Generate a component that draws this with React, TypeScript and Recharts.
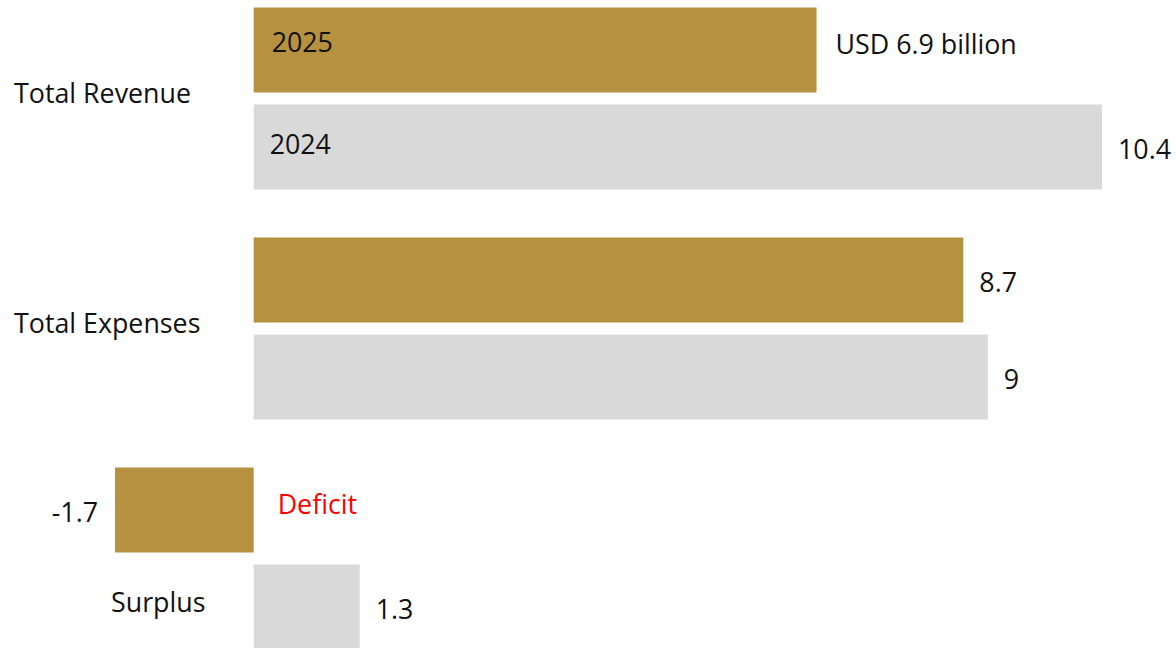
import React from 'react'
import {Bar, BarChart, LabelList, XAxis, YAxis} from 'recharts'

const categories = ['Total Revenue', 'Total Expenses', 'Surplus']
const seriesNames = ['2025', '2024']
const values2025 = [6.9, 8.7, -1.7]
const values2024 = [10.4, 9, 1.3]
const deficitLabel = 'Deficit'

const GOLD = '#b59140'
const GREY = '#d9d9d9'
const FONT = '"Open Sans", "Noto Sans", sans-serif'
const FS = 26.8

const data = categories.map((name, i) => ({
  name,
  y2025: values2025[i],
  y2024: values2024[i],
}))

function CategoryTick(props: any) {
  const {y, payload} = props
  const isSurplus = payload.value === 'Surplus'
  return (
    <text
      x={isSurplus ? 111 : 14}
      y={isSurplus ? y + 43 : y - 6}
      dominantBaseline="central"
      fontSize={FS}
      fontFamily={FONT}
      fill="#111"
    >
      {payload.value}
    </text>
  )
}

function makeLabel(series: number) {
  return (props: any) => {
    const vb = props.viewBox ?? props
    const x = Number(vb.x), width = Number(vb.width)
    const y = Number(vb.y), height = Number(vb.height)
    const value = Number(props.value)
    const index = props.index
    const left = Math.min(x, x + width)
    const right = Math.max(x, x + width)
    const cy = y + height / 2
    const out: React.ReactNode[] = []
    const text = series === 0 && index === 0 ? `USD ${value} billion` : String(value)
    if (value < 0) {
      out.push(
        <text key="v" x={left - 17} y={cy + 1} textAnchor="end" dominantBaseline="central" fontSize={FS} fontFamily={FONT} fill="#111">{text}</text>
      )
      out.push(
        <text key="d" x={right + 24} y={cy - 7} dominantBaseline="central" fontSize={FS} fontFamily={FONT} fill="#ff0000">{deficitLabel}</text>
      )
    } else {
      out.push(
        <text key="v" x={right + (series === 0 && index === 0 ? 19 : 16)} y={series === 0 && index === 0 ? cy - 7 : cy + 1} dominantBaseline="central" fontSize={FS} fontFamily={FONT} fill="#111">{text}</text>
      )
    }
    if (index === 0) {
      out.push(
        <text key="s" x={left + (series === 0 ? 18 : 16)} y={cy + (series === 0 ? -9 : -4)} dominantBaseline="central" fontSize={FS} fontFamily={FONT} fill="#111">{seriesNames[series]}</text>
      )
    }
    return <g>{out}</g>
  }
}

export default function App() {
  return (
    <div style={{position: 'absolute', left: 0, top: 0, width: 1176, height: 648, overflow: 'hidden', background: '#fff'}}>
      <div style={{position: 'absolute', left: 0, top: -17.5}}>
        <BarChart
          width={1176}
          height={690}
          data={data}
          layout="vertical"
          margin={{top: 0, right: 74, bottom: 0, left: 0}}
          barCategoryGap={24.5}
          barGap={12}
        >
          <XAxis type="number" domain={[-1.7, 10.4]} hide />
          <YAxis type="category" dataKey="name" width={115} axisLine={false} tickLine={false} tick={CategoryTick} />
          <Bar dataKey="y2025" fill={GOLD} isAnimationActive={false}>
            <LabelList dataKey="y2025" content={makeLabel(0)} />
          </Bar>
          <Bar dataKey="y2024" fill={GREY} isAnimationActive={false}>
            <LabelList dataKey="y2024" content={makeLabel(1)} />
          </Bar>
        </BarChart>
      </div>
    </div>
  )
}
